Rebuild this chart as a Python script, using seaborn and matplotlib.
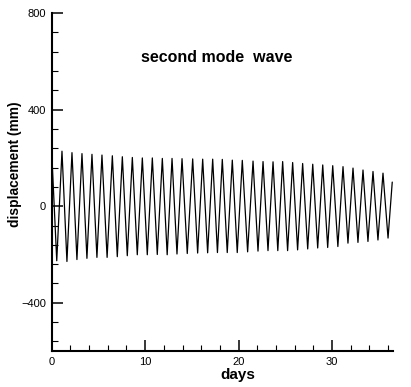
import numpy as np
import pandas as pd
import matplotlib
matplotlib.use("Agg")
import matplotlib.pyplot as plt
from matplotlib.ticker import MultipleLocator
import seaborn as sns

# Extrema of the oscillation (days, mm)
peak_days = [0.0, 1.10, 2.17, 3.24, 4.31, 5.38, 6.49, 7.56, 8.63, 9.70, 10.77,
             11.84, 12.88, 13.95, 15.09, 16.16, 17.23, 18.26, 19.33, 20.40,
             21.55, 22.62, 23.69, 24.72, 25.79, 26.86, 27.94, 29.01, 30.08,
             31.18, 32.25, 33.32, 34.39, 35.46]
peak_mm = [225, 228, 222, 218, 215, 212, 209, 205, 202, 200, 200,
           198, 198, 197, 196, 195, 195, 194, 191, 190,
           187, 185, 184, 185, 181, 177, 174, 171, 168,
           164, 158, 150, 144, 137]
trough_days = [0.54, 1.63, 2.70, 3.77, 4.84, 5.93, 7.02, 8.09, 9.16, 10.23,
               11.30, 12.36, 13.41, 14.51, 15.62, 16.69, 17.74, 18.79, 19.86,
               20.97, 22.08, 23.15, 24.20, 25.25, 26.32, 27.40, 28.47, 29.54,
               30.63, 31.71, 32.78, 33.85, 34.92, 36.00]
trough_mm = [-226, -229, -221, -216, -212, -212, -209, -205, -201, -201,
             -200, -201, -198, -196, -194, -193, -192, -192, -192,
             -189, -186, -184, -184, -184, -181, -177, -173, -171,
             -167, -153, -150, -146, -140, -132]
end_day = [36.45]
end_mm = [100]

days = []
disp = []
for i in range(len(peak_days)):
    days.append(peak_days[i]); disp.append(peak_mm[i])
    days.append(trough_days[i]); disp.append(trough_mm[i])
days += end_day
disp += end_mm
df = pd.DataFrame({"days": days, "disp": disp})

sns.set_style("ticks")
plt.rcParams['font.family'] = ['Liberation Sans', 'DejaVu Sans']
plt.rcParams['text.color'] = 'black'
plt.rcParams['axes.labelcolor'] = 'black'
plt.rcParams['xtick.color'] = 'black'
plt.rcParams['ytick.color'] = 'black'

fig = plt.figure(figsize=(4.11, 3.87), dpi=100)
ax = fig.add_axes([0.1258, 0.093, 0.9555 - 0.1258, 0.966 - 0.093])

sns.lineplot(data=df, x="days", y="disp", ax=ax, color="black", linewidth=0.9,
             sort=False, estimator=None)

ax.set_xlim(0, 36.5)
ax.set_ylim(-600, 800)
ax.xaxis.set_major_locator(MultipleLocator(10))
ax.xaxis.set_minor_locator(MultipleLocator(2))
ax.yaxis.set_major_locator(MultipleLocator(400))
ax.yaxis.set_minor_locator(MultipleLocator(80))
ax.tick_params(which='major', direction='in', length=8, width=1.1,
               labelsize=8, colors='black', pad=4)
ax.tick_params(which='minor', direction='in', length=4, width=0.8, colors='black')
for s in ['top', 'right']:
    ax.spines[s].set_visible(False)
for s in ['left', 'bottom']:
    ax.spines[s].set_linewidth(1.5)
    ax.spines[s].set_color('black')
ax.set_xlabel("")
ax.set_ylabel("")

fig.text(217 / 411, 1 - 58 / 387, "second mode  wave", ha='center', va='center',
         fontsize=11.5, fontweight='bold', color='black')
fig.text(15 / 411, 1 - 164 / 387, "displacement (mm)", ha='center', va='center',
         rotation=90, fontsize=9.9, fontweight='bold', color='black')
fig.text(238 / 411, 1 - 375 / 387, "days", ha='center', va='center',
         fontsize=11, fontweight='bold', color='black')

fig.savefig("out.png", dpi=100)
